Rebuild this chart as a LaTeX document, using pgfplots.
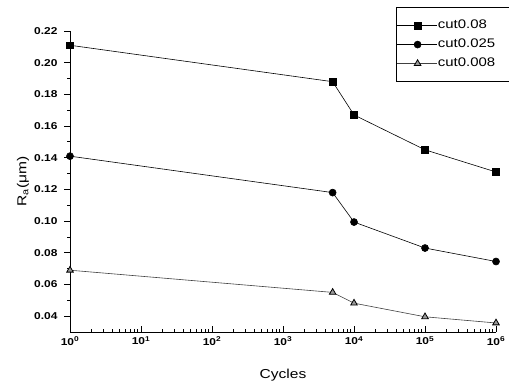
\documentclass[border=0pt]{standalone}
\usepackage{pgfplots}
\pgfplotsset{compat=1.18}
\usepackage{fontspec}
\setmainfont[FakeStretch=1.2]{Liberation Sans}
\begin{document}
\begin{tikzpicture}[x=1bp,y=1bp]
\useasboundingbox (0,0) rectangle (509,384);
\begin{axis}[
  at={(70bp,52bp)}, anchor=south west,
  scale only axis, width=426bp, height=301bp,
  xmode=log, xmin=1, xmax=1000000,
  ymin=0.03, ymax=0.22,
  axis x line*=bottom, axis y line*=left,
  x axis line style={-}, y axis line style={-},
  every outer x axis line/.append style={-},
  every outer y axis line/.append style={-},
  xtick={1,10,100,1000,10000,100000,1000000},
  xticklabels={10\textsuperscript{0},10\textsuperscript{1},10\textsuperscript{2},10\textsuperscript{3},10\textsuperscript{4},10\textsuperscript{5},10\textsuperscript{6}},
  ytick={0.04,0.06,0.08,0.10,0.12,0.14,0.16,0.18,0.20,0.22},
  minor y tick num=1,
  /pgf/number format/assume math mode=true,
  yticklabel style={/pgf/number format/fixed,/pgf/number format/fixed zerofill,/pgf/number format/precision=2,font=\bfseries\fontsize{10}{12}\selectfont, xshift=-3bp},
  xticklabel style={font=\bfseries\fontsize{10}{12}\selectfont, yshift=-1bp},
  xtick align=inside, ytick align=outside,
  major tick length=6bp, minor tick length=3bp,
  tick style={black, line width=0.8bp},
  axis line style={line width=1bp},
  xlabel={Cycles}, ylabel={R\textsubscript{a}(μm)},
  every axis x label/.style={at={(axis description cs:0.5,-0.143)}, anchor=center, font=\fontsize{13}{15}\selectfont},
  every axis y label/.style={at={(axis description cs:-0.11,0.5)}, rotate=90, anchor=center, font=\fontsize{13}{15}\selectfont},
  legend style={at={(axis description cs:0.765,1.08)}, anchor=north west, draw=black, line width=0.8bp,
    font=\fontsize{12.5}{14}\selectfont, inner ysep=10.5bp, inner xsep=0bp, row sep=3.5bp,
    nodes={text width=80bp, inner xsep=1bp, inner ysep=2bp, text height=9bp, text depth=2.5bp}},
  legend cell align=left,
  legend image code/.code={\draw[mark repeat=2,mark phase=2,#1] plot coordinates {(0bp,0bp)(21bp,0bp)(40bp,0bp)};},
]
\addplot[black, line width=0.6bp, mark=square*, mark size=3.3bp, mark options={solid, fill=black}]
  coordinates {(1,0.211) (5000,0.188) (10000,0.167) (100000,0.145) (1000000,0.131)};
\addlegendentry{cut0.08}
\addplot[black, line width=0.6bp, mark=*, mark size=3.5bp, mark options={solid, fill=black}]
  coordinates {(1,0.141) (5000,0.118) (10000,0.0994) (100000,0.083) (1000000,0.0745)};
\addlegendentry{cut0.025}
\addplot[black!75, line width=0.6bp, mark=triangle*, mark size=3.8bp, mark options={solid, draw=black, fill=black!40, line width=0.8bp}]
  coordinates {(1,0.069) (5000,0.055) (10000,0.0482) (100000,0.0396) (1000000,0.0357)};
\addlegendentry{cut0.008}
\end{axis}
\end{tikzpicture}
\end{document}
